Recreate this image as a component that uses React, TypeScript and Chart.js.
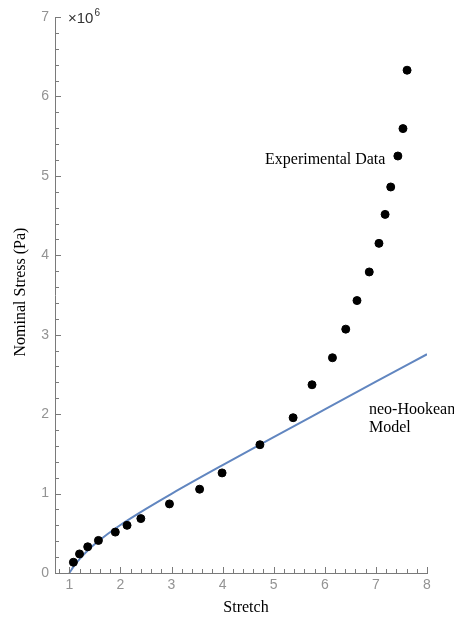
import React, { useEffect, useRef } from "react";
import { Chart, registerables } from "chart.js";

Chart.register(...registerables);

// Experimental data (stretch, nominal stress in units of 10^6 Pa)
const EXP_STRETCH = [1.08, 1.2, 1.36, 1.57, 1.9, 2.13, 2.4, 2.96, 3.55, 3.99, 4.73, 5.38, 5.75, 6.15, 6.41, 6.63, 6.87, 7.06, 7.18, 7.29, 7.43, 7.53, 7.61];
const EXP_STRESS = [0.135, 0.24, 0.33, 0.41, 0.515, 0.6, 0.685, 0.87, 1.055, 1.26, 1.615, 1.955, 2.37, 2.71, 3.07, 3.43, 3.79, 4.15, 4.515, 4.86, 5.25, 5.595, 6.33];

// neo-Hookean model curve
const MODEL_STRETCH = [1.0, 1.1, 1.2, 1.35, 1.5, 1.75, 2.0, 2.5, 3.0, 4.0, 5.0, 6.0, 7.0, 8.0];
const MODEL_STRESS = [0.0, 0.095, 0.175, 0.277, 0.364, 0.491, 0.604, 0.807, 0.997, 1.358, 1.711, 2.06, 2.408, 2.754];

const X_TICKS = [1, 2, 3, 4, 5, 6, 7, 8];
const Y_TICKS = [0, 1, 2, 3, 4, 5, 6, 7];
const X_MIN = 0.72;
const X_MAX = 8;
const Y_MIN = 0;
const Y_MAX = 7;
const MINOR_STEP = 0.2;

const X_TITLE = "Stretch";
const Y_TITLE = "Nominal Stress (Pa)";
const EXP_LABEL = "Experimental Data";
const MODEL_LABEL = ["neo-Hookean", "Model"];
const MULT_BASE = "×10";
const MULT_EXP = "6";

const AXIS_COLOR = "#7a7a7a";
const TICK_LABEL_COLOR = "#939393";
const LINE_COLOR = "#6186c0";
const SERIF = "'Liberation Serif', 'Times New Roman', serif";
const SANS = "'Liberation Sans', Arial, sans-serif";

const ticksPlugin = {
  id: "inwardTicks",
  afterDraw(chart: any) {
    const { ctx, chartArea } = chart;
    const xs = chart.scales.x;
    const ys = chart.scales.y;
    ctx.save();
    ctx.strokeStyle = AXIS_COLOR;
    ctx.lineWidth = 1;
    ctx.beginPath();
    const nx = Math.round(X_MAX / MINOR_STEP);
    for (let i = 0; i <= nx; i++) {
      const v = i * MINOR_STEP;
      if (v < X_MIN - 1e-9) continue;
      const major = i % 5 === 0;
      const px = Math.round(xs.getPixelForValue(v)) + 0.5;
      const len = major ? 6 : 4;
      ctx.moveTo(px, chartArea.bottom);
      ctx.lineTo(px, chartArea.bottom - len);
    }
    const ny = Math.round(Y_MAX / MINOR_STEP);
    for (let i = 0; i <= ny; i++) {
      const v = i * MINOR_STEP;
      const major = i % 5 === 0;
      const py = Math.round(ys.getPixelForValue(v)) + 0.5;
      const len = major ? 6 : 4;
      ctx.moveTo(chartArea.left, py);
      ctx.lineTo(chartArea.left + len, py);
    }
    ctx.stroke();
    ctx.restore();
  },
};

const textPlugin = {
  id: "texts",
  afterDraw(chart: any) {
    const { ctx } = chart;
    ctx.save();
    ctx.fillStyle = "#000";
    ctx.textBaseline = "middle";

    // axis titles
    ctx.font = `16px ${SERIF}`;
    ctx.textAlign = "center";
    ctx.fillText(X_TITLE, 246, 608);
    ctx.save();
    ctx.translate(20.5, 292);
    ctx.rotate(-Math.PI / 2);
    ctx.fillText(Y_TITLE, 0, 0);
    ctx.restore();

    // multiplier
    ctx.fillStyle = "#333";
    ctx.textAlign = "left";
    ctx.font = `15px ${SANS}`;
    ctx.fillText(MULT_BASE, 68, 19);
    const w = ctx.measureText(MULT_BASE).width;
    ctx.font = `10px ${SANS}`;
    ctx.fillText(MULT_EXP, 68 + w + 1, 13);

    // annotations
    ctx.fillStyle = "#000";
    ctx.font = `16px ${SERIF}`;
    ctx.textAlign = "left";
    ctx.fillText(EXP_LABEL, 265, 160);
    ctx.fillText(MODEL_LABEL[0], 369, 410);
    ctx.fillText(MODEL_LABEL[1], 369, 428);
    ctx.restore();
  },
};

export default function App() {
  const ref = useRef<HTMLCanvasElement | null>(null);

  useEffect(() => {
    if (!ref.current) return;
    const chart = new Chart(ref.current, {
      type: "scatter",
      data: {
        datasets: [
          {
            label: EXP_LABEL,
            data: EXP_STRETCH.map((x, i) => ({ x, y: EXP_STRESS[i] })),
            backgroundColor: "#000",
            borderColor: "#000",
            pointRadius: 4,
            pointHoverRadius: 4,
            showLine: false,
          },
          {
            label: MODEL_LABEL.join(" "),
            data: MODEL_STRETCH.map((x, i) => ({ x, y: MODEL_STRESS[i] })),
            borderColor: LINE_COLOR,
            backgroundColor: LINE_COLOR,
            borderWidth: 2,
            pointRadius: 0,
            showLine: true,
            cubicInterpolationMode: "monotone",
          } as any,
        ],
      },
      options: {
        animation: false,
        responsive: false,
        devicePixelRatio: 1,
        layout: { padding: { top: 17, right: 27, bottom: 0, left: 0 } },
        plugins: { legend: { display: false }, tooltip: { enabled: false } },
        scales: {
          x: {
            type: "linear",
            min: X_MIN,
            max: X_MAX,
            afterBuildTicks: (s: any) => {
              s.ticks = X_TICKS.map((v) => ({ value: v }));
            },
            afterFit: (s: any) => {
              s.height = 47;
            },
            grid: { display: false, drawTicks: false },
            border: { display: true, color: AXIS_COLOR, width: 1 },
            ticks: { color: TICK_LABEL_COLOR, font: { family: SANS, size: 14 }, padding: 4, maxRotation: 0 },
          },
          y: {
            type: "linear",
            min: Y_MIN,
            max: Y_MAX,
            afterBuildTicks: (s: any) => {
              s.ticks = Y_TICKS.map((v) => ({ value: v }));
            },
            afterFit: (s: any) => {
              s.width = 55;
            },
            grid: { display: false, drawTicks: false },
            border: { display: true, color: AXIS_COLOR, width: 1 },
            ticks: { color: TICK_LABEL_COLOR, font: { family: SANS, size: 14 }, padding: 6 },
          },
        },
      },
      plugins: [ticksPlugin, textPlugin],
    });
    return () => chart.destroy();
  }, []);

  return (
    <div style={{ position: "absolute", left: 0, top: 0, width: 454, height: 620, background: "#fff" }}>
      <canvas ref={ref} width={454} height={620} style={{ display: "block" }} />
    </div>
  );
}
